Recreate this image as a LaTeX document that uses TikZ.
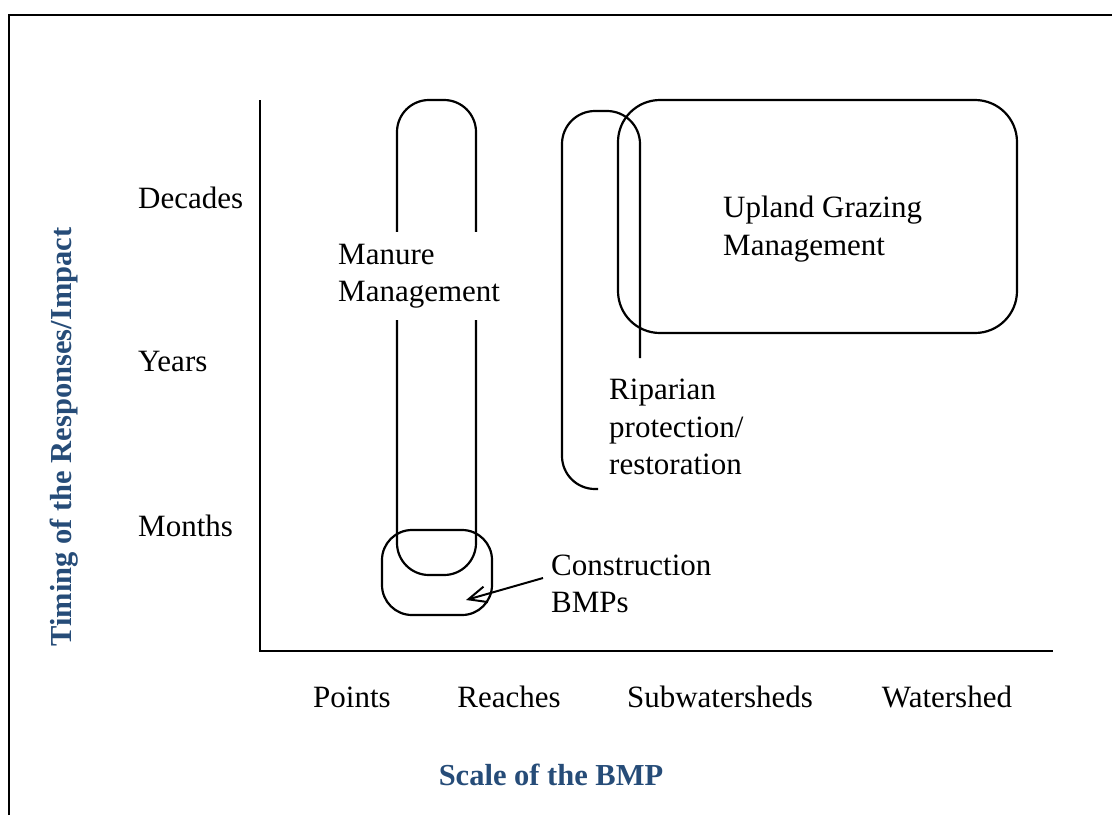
\documentclass[tikz,border=0pt]{standalone}
\usepackage{fontspec}
\setmainfont{Liberation Serif}
\usetikzlibrary{arrows.meta}
\definecolor{titleblue}{RGB}{38,76,120}
\tikzset{
  shapeline/.style={draw=black,line width=2.2pt},
  axisline/.style={draw=black,line width=2.8pt},
  lbl/.style={font=\fontsize{31}{37.5}\selectfont,inner sep=0pt},
  blocklbl/.style={font=\fontsize{31}{37.5}\selectfont,align=left,inner xsep=3pt,inner ysep=0pt},
  axtitle/.style={font=\fontsize{30.5}{36}\selectfont\bfseries,text=titleblue,inner sep=0pt},
  arrowst/.style={line width=2pt,-{Straight Barb[length=18pt,width=16pt,line width=2pt]}}
}
\begin{document}
\begin{tikzpicture}[x=1pt,y=-1pt]
\useasboundingbox (0,0) rectangle (1112,815);
% frame
\draw[line width=2pt] (9,815) -- (9,15) -- (1112,15);
% axes
\coordinate (ytop) at (260,100);
\coordinate (origin) at (260,651);
\coordinate (xend) at (1053,651);
\draw[axisline] (ytop) -- (origin) -- (xend);
% y tick labels
\node[lbl,anchor=base west] (decades) at (138,208) {Decades};
\node[lbl,anchor=base west] (years) at (138,371) {Years};
\node[lbl,anchor=base west] (months) at (138,536) {Months};
% x tick labels
\node[lbl,anchor=base] (points) at (352,707) {Points};
\node[lbl,anchor=base] (reaches) at (509,707) {Reaches};
\node[lbl,anchor=base] (subw) at (720,707) {Subwatersheds};
\node[lbl,anchor=base] (water) at (947,707) {Watershed};
% axis titles
\node[axtitle,anchor=base] (xtitle) at (551,785) {Scale of the BMP};
\node[axtitle,anchor=base,rotate=90] (ytitle) at (71,437) {Timing of the Responses/Impact};
% shapes
\draw[shapeline,rounded corners=32pt] (397,100) rectangle (476,575);
\draw[shapeline,rounded corners=30pt] (382,530) rectangle (492,615);
\draw[shapeline,rounded corners=42pt] (618,100) rectangle (1017,333);
\draw[shapeline,rounded corners=33pt] (598,489) -- (562,489) -- (562,111) -- (640,111) -- (640,358);
% block labels
\node[blocklbl,anchor=west,fill=white,inner ysep=12pt] (manure) at (335,276) {Manure\\Management};
\node[blocklbl,anchor=west] (upland) at (720,229) {Upland Grazing\\Management};
\node[blocklbl,anchor=west] (riparian) at (606,427) {Riparian\\protection/\\restoration};
\node[blocklbl,anchor=west] (cons) at (548,584) {Construction\\BMPs};
% arrow
\coordinate (arrs) at (543,578);
\coordinate (cbtip) at (466,600);
\draw[arrowst] (arrs) -- (cbtip);
\end{tikzpicture}
\end{document}
